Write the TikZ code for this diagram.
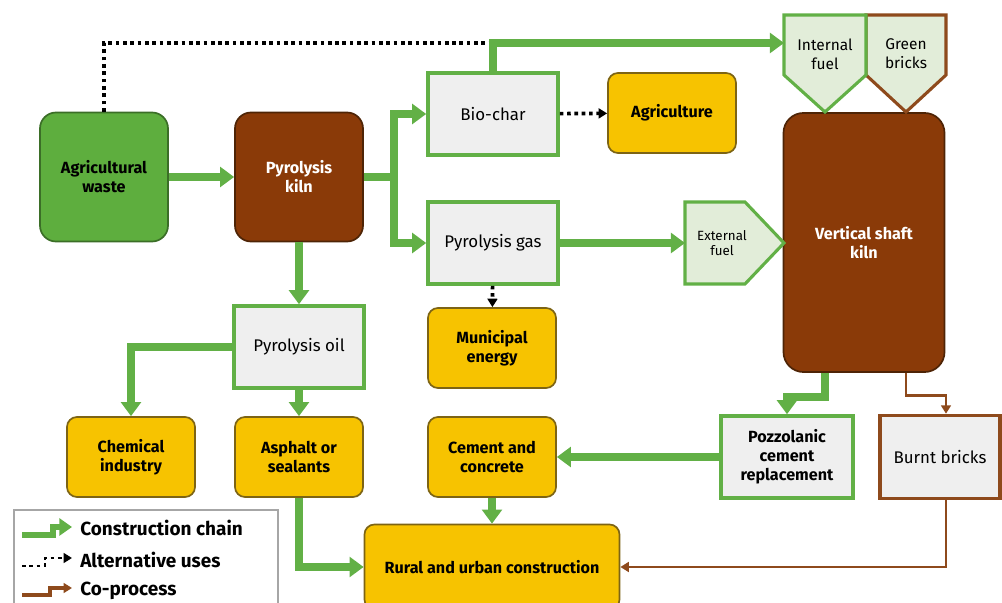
\documentclass[tikz,border=0pt]{standalone}
\usepackage{fontspec}
\setmainfont{Fira Sans}
\usepackage{xcolor}
\usetikzlibrary{arrows.meta,calc}
\definecolor{chaingreen}{HTML}{62B046}
\definecolor{wastegreen}{HTML}{5EAE3E}
\definecolor{darkgreen}{HTML}{3B6E27}
\definecolor{kilnbrown}{HTML}{8A3A08}
\definecolor{darkbrown}{HTML}{4E2406}
\definecolor{coproc}{HTML}{8E4A1C}
\definecolor{useyellow}{HTML}{F7C300}
\definecolor{darkyellow}{HTML}{7D6414}
\definecolor{boxgray}{HTML}{EFEFEF}
\definecolor{fuelfill}{HTML}{E2EDD9}
\tikzset{
	box/.style={align=center, inner sep=2pt, font=\bfseries\fontsize{11.5}{13.5}\selectfont},
	waste/.style={box, draw=darkgreen, fill=wastegreen, line width=1.2pt, rounded corners=0.4cm, minimum width=3.2cm, minimum height=3.225cm},
	kiln/.style={box, draw=darkbrown, fill=kilnbrown, text=white, line width=1.2pt, rounded corners=0.4cm, minimum width=3.2cm, minimum height=3.225cm},
	product/.style={box, draw=chaingreen, fill=boxgray, line width=2.5pt, minimum width=3.25cm, minimum height=2.05cm, font=\fontsize{12}{14}\selectfont},
	use/.style={box, draw=darkyellow, fill=useyellow, line width=1.2pt, rounded corners=0.25cm, minimum width=3.2cm, minimum height=2cm},
	fuel/.style={draw=chaingreen, fill=fuelfill, line width=2.2pt, line join=miter},
	fueltext/.style={align=center, inner sep=1pt, font=\fontsize{11}{13.5}\selectfont},
	legendtext/.style={anchor=west, inner sep=0pt, font=\bfseries\fontsize{13.5}{15}\selectfont},
	chain/.style={chaingreen, line width=5.5pt, -{Triangle[width=14pt,length=10pt]}},
	alt/.style={black, line width=2.6pt, dash pattern=on 2.6pt off 2.6pt},
	altarrow/.style={alt, -{Triangle[width=7pt,length=6pt]}},
	coprocess/.style={coproc, line width=2pt, -{Triangle[width=7pt,length=6pt]}}
}

\begin{document}
\begin{tikzpicture}[x=0.025cm, y=-0.025cm]
	\useasboundingbox (0,0) rectangle (1002,603);
	\clip (0,0) rectangle (1002,603);

	\node[waste] (agri) at (104,177) {Agricultural\\waste};
	\node[kiln] (pkiln) at (299,177) {Pyrolysis\\kiln};
	\node[product] (biochar) at (493,114) {Bio-char};
	\node[product] (pgas) at (493,243) {Pyrolysis gas};
	\node[use] (agric) at (672,113) {Agriculture};
	\node[kiln, minimum width=4.025cm, minimum height=6.475cm, rounded corners=0.5cm] (vsk) at (864,242.5) {Vertical shaft\\kiln};

	\draw[fuel, draw=coproc] (866,15) -- (946,15) -- (946,75) -- (906,112) -- (866,75) -- cycle;
	\draw[fuel] (784,15) -- (866,15) -- (866,75) -- (825,112) -- (784,75) -- cycle;
	\draw[fuel] (685,202) -- (745,202) -- (784,243) -- (745,284) -- (685,284) -- cycle;
	\node[fueltext] (intfuel) at (825,54) {Internal\\fuel};
	\node[fueltext] (grbricks) at (906,54) {Green\\bricks};
	\node[fueltext, font=\fontsize{9.5}{11}\selectfont] (extfuel) at (722,243) {External\\fuel};
	\coordinate (infuel) at (784,43);
	\coordinate (extin) at (685,243);

	\node[product] (poil) at (299,347) {Pyrolysis oil};
	\node[use] (municipal) at (492,348) {Municipal\\energy};
	\node[use] (chemical) at (131,457) {Chemical\\industry};
	\node[use] (asphalt) at (299,457) {Asphalt or\\sealants};
	\node[use] (cement) at (492,457) {Cement and\\concrete};
	\node[product, font=\bfseries\fontsize{11.5}{13.5}\selectfont, minimum width=3.3cm] (pozz) at (787,457) {Pozzolanic\\cement\\replacement};
	\node[product, draw=coproc, minimum width=3cm, minimum height=2.075cm] (burnt) at (940,457) {Burnt bricks};
	\node[use, minimum width=6.375cm, minimum height=2.125cm] (rural) at (492,567) {Rural and urban construction};

	\draw[alt] (agri) |- (biochar.north |- infuel);
	\draw[chain] (agri) -- (pkiln);
	\draw[chain] (pkiln.east) -- ++(30,0) |- (biochar);
	\draw[chain] (pkiln.east) -- ++(30,0) |- (pgas);
	\draw[chain] (biochar) |- (infuel);
	\draw[altarrow] (biochar) -- (agric);
	\draw[altarrow] (pgas) -- (municipal);
	\draw[chain] (pgas) -- (extin);
	\draw[chain] (pkiln) -- (poil);
	\draw[chain] (poil) -| (chemical);
	\draw[chain] (poil) -- (asphalt);
	\draw[chain] (asphalt) |- (rural);
	\draw[chain] (cement) -- (rural);
	\draw[chain] (pozz) -- (cement);
	\draw[chain] ($(vsk.south)+(-39,0)$) -- ++(0,24) -| (pozz);
	\draw[coprocess] ($(vsk.south)+(42,0)$) -- ++(0,23) -| ($(burnt.north)+(6,0)$);
	\draw[coprocess] ($(burnt.south)+(6,0)$) |- (rural);

	\draw[gray!70, line width=0.8pt, fill=white] (14,510) rectangle (278,620);
	\draw[chaingreen, line width=4.5pt, -{Triangle[width=12pt,length=9pt]}] (22,535) -- (53,535) -- (53,527) -- (72,527);
	\draw[altarrow, line width=2pt] (22,566) -- (45,566) -- (45,558) -- (72,558);
	\draw[coprocess, line width=2.5pt] (22,595) -- (50,595) -- (50,588) -- (72,588);
	\node[legendtext] (lgchain) at (80,528) {Construction chain};
	\node[legendtext] (lgalt) at (80,560) {Alternative uses};
	\node[legendtext] (lgco) at (80,591) {Co-process};
\end{tikzpicture}
\end{document}
